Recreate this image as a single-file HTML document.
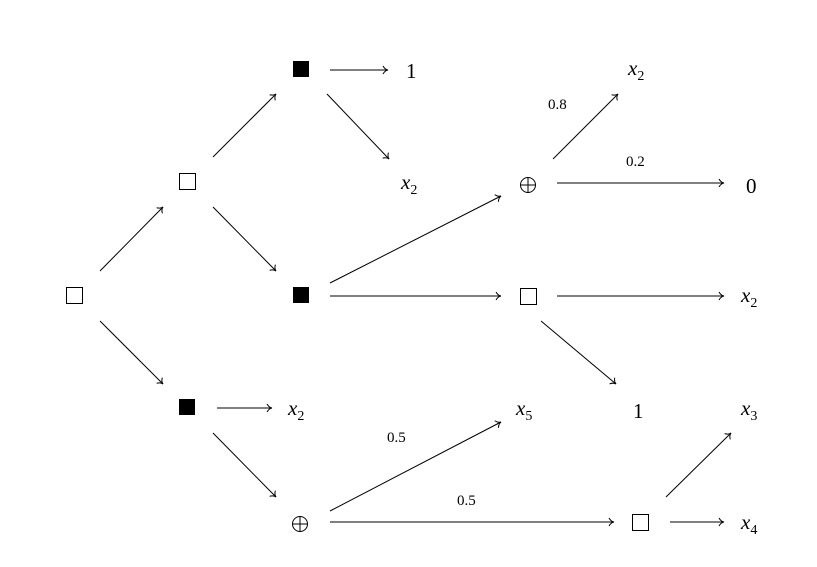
<!DOCTYPE html>
<html><head><style>
html,body{margin:0;padding:0;background:#fff;}
svg{display:block;}
text{font-family:"Liberation Serif",serif;fill:#000;}
.l{font-size:15px;}
.n{font-size:21px;}
.x{font-size:21px;font-style:italic;}
.s{font-size:14px;}
</style></head><body>
<svg width="817" height="567" viewBox="0 0 817 567" xmlns="http://www.w3.org/2000/svg">
<defs>
<marker id="a" markerWidth="10" markerHeight="10" refX="8" refY="5" orient="auto" markerUnits="userSpaceOnUse">
<path d="M3,1 Q5,4.5 8,5 Q5,5.5 3,9" fill="none" stroke="#000" stroke-width="1"/>
</marker>
</defs>
<g stroke="#000" stroke-width="1" marker-end="url(#a)" fill="none">
<line x1="100" y1="271" x2="163" y2="207"/>
<line x1="100" y1="321" x2="163" y2="384"/>
<line x1="213" y1="157" x2="276" y2="94"/>
<line x1="213" y1="207" x2="276" y2="271"/>
<line x1="330" y1="70" x2="388" y2="70"/>
<line x1="327" y1="94" x2="389" y2="159"/>
<line x1="217" y1="408" x2="272" y2="408"/>
<line x1="213" y1="433" x2="276" y2="497"/>
<line x1="330" y1="283" x2="501" y2="196"/>
<line x1="330" y1="296" x2="501" y2="296"/>
<line x1="330" y1="511" x2="501" y2="422"/>
<line x1="330" y1="522" x2="614" y2="522"/>
<line x1="553" y1="159" x2="618" y2="94"/>
<line x1="557" y1="183" x2="724" y2="183"/>
<line x1="557" y1="296" x2="724" y2="296"/>
<line x1="541" y1="321" x2="616" y2="384"/>
<line x1="666" y1="497" x2="731" y2="433"/>
<line x1="670" y1="522" x2="724" y2="522"/>
</g>
<g fill="none" stroke="#000" stroke-width="1">
<rect x="66.5" y="287.5" width="16" height="16"/>
<rect x="179.5" y="173.5" width="16" height="16"/>
<rect x="520.5" y="288.5" width="16" height="16"/>
<rect x="632.5" y="514.5" width="16" height="16"/>
<circle cx="300" cy="524" r="7.5"/>
<line x1="292.5" y1="524" x2="307.5" y2="524"/><line x1="300" y1="516.5" x2="300" y2="531.5"/>
<circle cx="528" cy="185" r="7.5"/>
<line x1="520.5" y1="185" x2="535.5" y2="185"/><line x1="528" y1="177.5" x2="528" y2="192.5"/>
</g>
<g fill="#000">
<rect x="293" y="61" width="16" height="16"/>
<rect x="293" y="287" width="16" height="16"/>
<rect x="179" y="399" width="16" height="16"/>
</g>
<text class="n" x="406" y="78">1</text>
<text class="n" x="746" y="193">0</text>
<text class="n" x="633" y="418">1</text>
<text class="x" x="401" y="189">x<tspan class="s" dy="5" style="font-style:normal">2</tspan></text>
<text class="x" x="288" y="415">x<tspan class="s" dy="5" style="font-style:normal">2</tspan></text>
<text class="x" x="628" y="75">x<tspan class="s" dy="5" style="font-style:normal">2</tspan></text>
<text class="x" x="741" y="302">x<tspan class="s" dy="5" style="font-style:normal">2</tspan></text>
<text class="x" x="516" y="415">x<tspan class="s" dy="5" style="font-style:normal">5</tspan></text>
<text class="x" x="741" y="415">x<tspan class="s" dy="5" style="font-style:normal">3</tspan></text>
<text class="x" x="741" y="529">x<tspan class="s" dy="5" style="font-style:normal">4</tspan></text>
<text class="l" x="548" y="109">0.8</text>
<text class="l" x="626" y="166">0.2</text>
<text class="l" x="387" y="442">0.5</text>
<text class="l" x="457" y="505">0.5</text>
</svg>
</body></html>
